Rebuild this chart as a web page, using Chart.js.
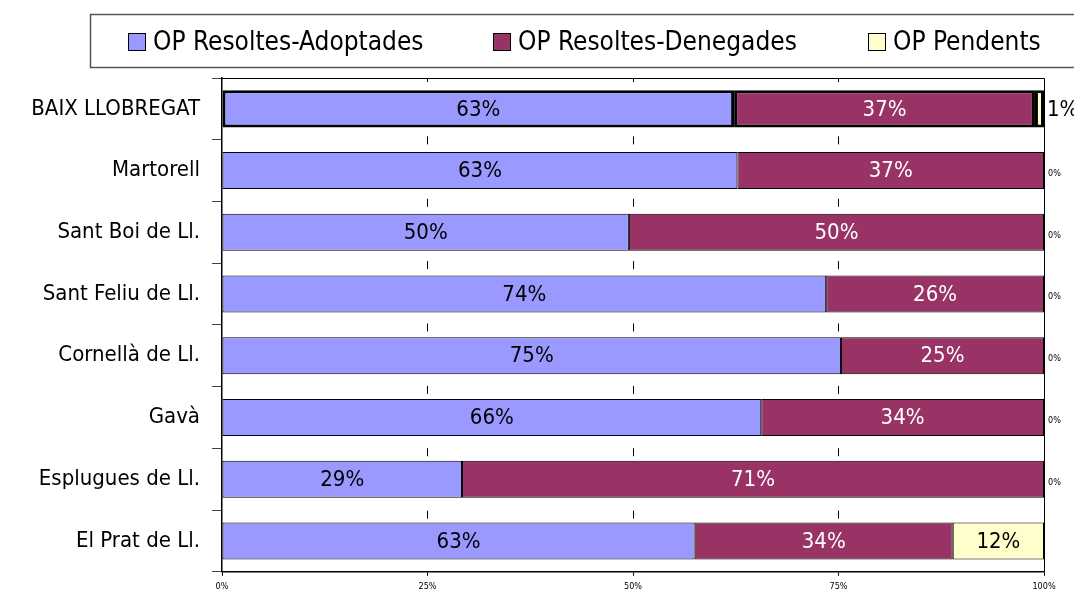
<!DOCTYPE html>
<html>
<head>
<meta charset="utf-8">
<script src="https://cdn.jsdelivr.net/npm/chart.js@4"></script>
<style>
  body { margin: 0; background: #fff; }
  #wrap { width: 1074px; height: 597px; }
</style>
</head>
<body>
<div id="wrap"><canvas id="chart" width="1074" height="597"></canvas></div>
<script>
const FONT = "'Liberation Sans Narrow', 'Arial Narrow', 'DejaVu Sans Condensed', sans-serif";

const categories = [
  "BAIX LLOBREGAT", "Martorell", "Sant Boi de Ll.", "Sant Feliu de Ll.",
  "Cornellà de Ll.", "Gavà", "Esplugues de Ll.", "El Prat de Ll."
];
const seriesNames = ["OP Resoltes-Adoptades", "OP Resoltes-Denegades", "OP Pendents"];

// bar lengths as drawn (share of 100%)
const adoptades = [62.3, 62.7, 49.5, 73.5, 75.3, 65.6, 29.2, 57.5];
const denegades = [36.6, 37.3, 50.5, 26.5, 24.7, 34.4, 70.8, 31.4];
const pendents = [1.1, 0, 0, 0, 0, 0, 0, 11.1];

// printed labels
const adoptadesLabels = ["63%", "63%", "50%", "74%", "75%", "66%", "29%", "63%"];
const denegadesLabels = ["37%", "37%", "50%", "26%", "25%", "34%", "71%", "34%"];
const pendentsLabels = ["1%", "0%", "0%", "0%", "0%", "0%", "0%", "12%"];

const xTicks = [0, 25, 50, 75, 100];

const colors = ["#9999FF", "#993366", "#FFFFCC"];
const labelColors = ["#000", "#fff", "#000"];
const allLabels = [adoptadesLabels, denegadesLabels, pendentsLabels];

const borderWidths = categories.map((c, i) => (i === 0 ? 3 : 1));

// legend drawn in a box above the plot
const legendX = [128, 493, 868];
const legendBox = {
  id: "legendBox",
  afterDraw(chart) {
    const ctx = chart.ctx;
    ctx.save();
    ctx.strokeStyle = "#555";
    ctx.lineWidth = 1.5;
    ctx.strokeRect(90.5, 14.5, 1000, 53);
    ctx.font = "26px " + FONT;
    ctx.textBaseline = "middle";
    const y = 42;
    seriesNames.forEach((name, i) => {
      const x = legendX[i];
      ctx.fillStyle = colors[i];
      ctx.fillRect(x, y - 9, 18, 18);
      ctx.strokeStyle = "#000";
      ctx.lineWidth = 1;
      ctx.strokeRect(x + 0.5, y - 8.5, 17, 17);
      ctx.fillStyle = "#000";
      ctx.fillText(name, x + 25, y + 1);
    });
    ctx.restore();
  }
};

// frame on top and right of the plot
const frame = {
  id: "frame",
  beforeDatasetsDraw(chart) {
    const { ctx, chartArea: a } = chart;
    ctx.save();
    ctx.strokeStyle = "#000";
    ctx.lineWidth = 1;
    ctx.beginPath();
    ctx.moveTo(a.left, a.top + 0.5);
    ctx.lineTo(a.right + 0.5, a.top + 0.5);
    ctx.lineTo(a.right + 0.5, a.bottom);
    ctx.stroke();
    ctx.restore();
  }
};

// value labels in the middle of each segment
const segmentLabels = {
  id: "segmentLabels",
  afterDatasetsDraw(chart) {
    const ctx = chart.ctx;
    const right = chart.chartArea.right;
    ctx.save();
    ctx.textBaseline = "middle";
    chart.data.datasets.forEach((ds, di) => {
      const meta = chart.getDatasetMeta(di);
      meta.data.forEach((bar, i) => {
        const text = allLabels[di][i];
        const w = Math.abs(bar.x - bar.base);
        if (di === 2 && w < 30) {
          ctx.textAlign = "left";
          ctx.fillStyle = "#000";
          if (ds.data[i] > 0) {
            ctx.font = "22px " + FONT;
            ctx.fillText(text, right + 3, bar.y + 1);
          } else {
            ctx.font = "9px " + FONT;
            ctx.fillText(text, right + 4, bar.y + 3);
          }
          return;
        }
        ctx.textAlign = "center";
        ctx.font = "22px " + FONT;
        ctx.fillStyle = labelColors[di];
        ctx.fillText(text, (bar.x + bar.base) / 2, bar.y + 1);
      });
    });
    ctx.restore();
  }
};

const band = (577 - 78) / categories.length;

new Chart(document.getElementById("chart"), {
  type: "bar",
  data: {
    labels: categories,
    datasets: [adoptades, denegades, pendents].map((d, i) => ({
      label: seriesNames[i],
      data: d,
      backgroundColor: colors[i],
      borderColor: "#000",
      borderWidth: borderWidths,
      borderSkipped: false,
      categoryPercentage: 1,
      barPercentage: 0.6
    }))
  },
  options: {
    indexAxis: "y",
    responsive: false,
    animation: false,
    events: [],
    layout: { padding: { left: 0, right: 30, top: 78, bottom: 0 } },
    plugins: {
      legend: { display: false },
      tooltip: { enabled: false }
    },
    scales: {
      x: {
        stacked: true,
        min: 0,
        max: 100,
        afterBuildTicks(scale) {
          scale.ticks = xTicks.map((v) => ({ value: v }));
        },
        afterFit(scale) {
          scale.height = 20;
        },
        ticks: {
          font: { family: FONT, size: 9 },
          color: "#000",
          padding: 5,
          maxRotation: 0,
          callback: (v) => v + "%"
        },
        grid: {
          color: (c) => (c.tick && (c.tick.value === 25 || c.tick.value === 50 || c.tick.value === 75) ? "#000" : "rgba(0,0,0,0)"),
          tickColor: "#000",
          tickLength: 4,
          lineWidth: 1
        },
        border: { color: "#000", width: 1.5, dash: [8, band - 8], dashOffset: 4 }
      },
      y: {
        stacked: true,
        afterFit(scale) {
          scale.width = 222;
        },
        ticks: {
          font: { family: FONT, size: 22 },
          color: "#000",
          padding: 12
        },
        grid: {
          offset: true,
          drawOnChartArea: false,
          color: "#444",
          tickLength: 10
        },
        border: { color: "#000", width: 1.5 }
      }
    }
  },
  plugins: [frame, segmentLabels, legendBox]
});
</script>
</body>
</html>
